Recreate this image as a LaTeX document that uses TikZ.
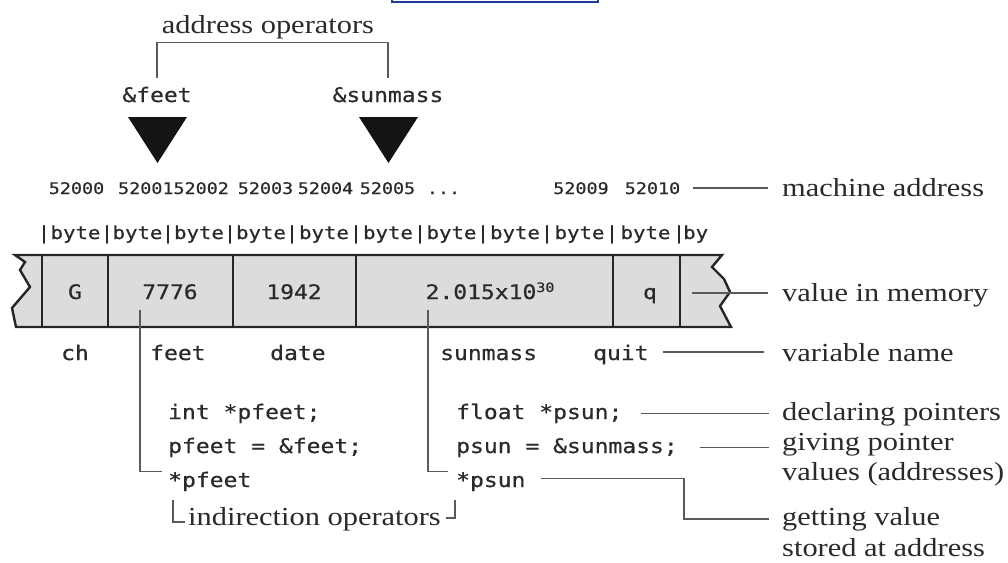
\documentclass[tikz,border=0pt]{standalone}
\usepackage{fontspec}
\newfontfamily\monof[FakeStretch=1.15,FakeBold=0.6]{DejaVu Sans Mono}
\newfontfamily\serf[FakeStretch=1.17]{Liberation Serif}
\definecolor{txt}{HTML}{2A2A2A}
\definecolor{leadc}{HTML}{5A5A5A}
\definecolor{border}{HTML}{262626}
\definecolor{cellfill}{HTML}{DCDCDC}
\definecolor{linkblue}{HTML}{1C3C9A}
\begin{document}
\begin{tikzpicture}[x=1pt,y=-1pt,
  lead/.style={draw=leadc, line width=1.5pt},
  cellb/.style={draw=border, line width=2.6pt},
  ser/.style={font=\serf\fontsize{26}{30}\selectfont, text=txt, inner sep=0pt},
  code/.style={font=\monof\fontsize{20}{24}\selectfont, text=txt, inner sep=0pt},
  addr/.style={font=\monof\fontsize{16}{19}\selectfont, text=txt, inner sep=0pt},
  bytef/.style={font=\monof\fontsize{18}{22}\selectfont, text=txt, inner sep=0pt},
  tri/.style={fill=black!92}]
\fill[white] (0,0) rectangle (1008,562);
\useasboundingbox (0,0) rectangle (1008,562);

% link underline at the top edge
\draw[linkblue, line width=1.8pt] (392,-2) -- (392,2) -- (598,2) -- (598,-2);

% address operators
\node[ser, anchor=base] (addrop) at (268,33) {address operators};
\node[code, anchor=base] (afeet) at (157,102) {\&feet};
\node[code, anchor=base] (asun) at (388,102) {\&sunmass};
\draw[lead] ([yshift=9pt]afeet.north) |- ([yshift=-4pt]addrop.south) -| ([yshift=9pt]asun.north);
\fill[tri] (128,117) -- (187,117) -- (157.5,163) -- cycle;
\fill[tri] (359,117) -- (418,117) -- (388.5,163) -- cycle;

% addresses
\node[addr, anchor=base] (a1) at (76.5,194) {52000};
\node[addr, anchor=base] (a2) at (173.5,194) {5200152002};
\node[addr, anchor=base] (a3) at (265.5,194) {52003};
\node[addr, anchor=base] (a4) at (325.5,194) {52004};
\node[addr, anchor=base] (a5) at (387.5,194) {52005};
\node[addr, anchor=base] (a6) at (443.5,194) {...};
\node[addr, anchor=base] (a9) at (581,194) {52009};
\node[addr, anchor=base] (a10) at (652.5,194) {52010};
\node[ser, anchor=base west] (ma) at (782,196) {machine address};
\draw[lead] ([xshift=13pt]a10.east) -- ([xshift=-14pt]ma.west |- a10.east);

% bytes row
\foreach \bx [count=\i] in {44,107,168,230,292,356,420,483,547,612,679}
  \node[bytef, anchor=base] (bar\i) at (\bx,239) {|};
\foreach \cx [count=\i] in {75.5,137.5,199,261,324,388,451.5,515,579.5,645.5}
  \node[bytef, anchor=base] (byte\i) at (\cx,239) {byte};
\node[bytef, anchor=base west] (bytelast) at (683,239) {by};

% memory strip
\filldraw[fill=cellfill, draw=border, line width=2.4pt, line join=miter]
  (15,255) -- (722,255) -- (712,267) -- (724,279) -- (730,292) -- (720,306)
  -- (731,327) -- (16,327) -- (12,308) -- (30,287) -- (20,270) -- (25,262) -- cycle;
\foreach \dx in {42,108,233,356,613,680}
  \draw[cellb] (\dx,255) -- (\dx,327);

\node[code, anchor=base] (v1) at (75,299) {G};
\node[code, anchor=base] (v2) at (170,299) {7776};
\node[code, anchor=base] (v3) at (294,299) {1942};
\node[code, anchor=base] (v4) at (490,299) {2.015x10\raisebox{7pt}{\fontsize{13}{13}\selectfont 30}};
\node[code, anchor=base] (v5) at (650,299) {q};
\node[ser, anchor=base west] (vm) at (782,301) {value in memory};
\coordinate (vmstart) at (692,293);
\draw[lead] (vmstart) -- ([xshift=-14pt]vm.west |- vmstart);

% variable names
\node[code, anchor=base] (n1) at (75,360) {ch};
\node[code, anchor=base west] (n2) at (150,360) {feet};
\node[code, anchor=base west] (n3) at (270,360) {date};
\node[code, anchor=base west] (n4) at (440,360) {sunmass};
\node[code, anchor=base west] (quit) at (593,360) {quit};
\node[ser, anchor=base west] (vn) at (782,361) {variable name};
\draw[lead] ([xshift=14pt]quit.east |- vn.west) -- ([xshift=-18pt]vn.west);

% code lines
\node[code, anchor=base west] (c1) at (168,419) {int *pfeet;};
\node[code, anchor=base west] (c2) at (168,453) {pfeet = \&feet;};
\node[code, anchor=base west] (c3) at (168,487) {*pfeet};
\node[code, anchor=base west] (c4) at (456,419) {float *psun;};
\node[code, anchor=base west] (c5) at (456,453) {psun = \&sunmass;};
\node[code, anchor=base west] (c6) at (456,487) {*psun};

% pointer lines
\draw[lead] ([xshift=-30pt,yshift=-11pt]v2.south) |- ([xshift=-6pt,yshift=10pt]c3.west);
\draw[lead] ([xshift=-62pt,yshift=-11pt]v4.south) |- ([xshift=-8pt,yshift=10pt]c6.west);

% right labels
\node[ser, anchor=base west] (dp) at (782,420) {declaring pointers};
\node[ser, anchor=base west] (gp1) at (782,450) {giving pointer};
\node[ser, anchor=base west] (gp2) at (782,480) {values (addresses)};
\node[ser, anchor=base west] (gv1) at (782,525) {getting value};
\node[ser, anchor=base west] (gv2) at (782,556) {stored at address};
\draw[lead] ([xshift=18pt]c4.east) -- ([xshift=-13pt]dp.west |- c4.east);
\draw[lead] ([xshift=22pt]c5.east) -- ([xshift=-13pt]gp1.west |- c5.east);
\draw[lead] ([xshift=15pt,yshift=3pt]c6.east) -| ([xshift=-98pt]gv1.west) -- ([xshift=-13pt]gv1.west);

% indirection operators
\node[ser, anchor=base west] (io) at (188,525) {indirection operators};
\draw[lead] ([xshift=-15pt,yshift=25pt]io.base west) |- ([xshift=-3pt,yshift=3pt]io.base west);
\draw[lead] ([xshift=5pt,yshift=7pt]io.base east) -| ([xshift=14pt,yshift=25pt]io.base east);
\end{tikzpicture}
\end{document}
